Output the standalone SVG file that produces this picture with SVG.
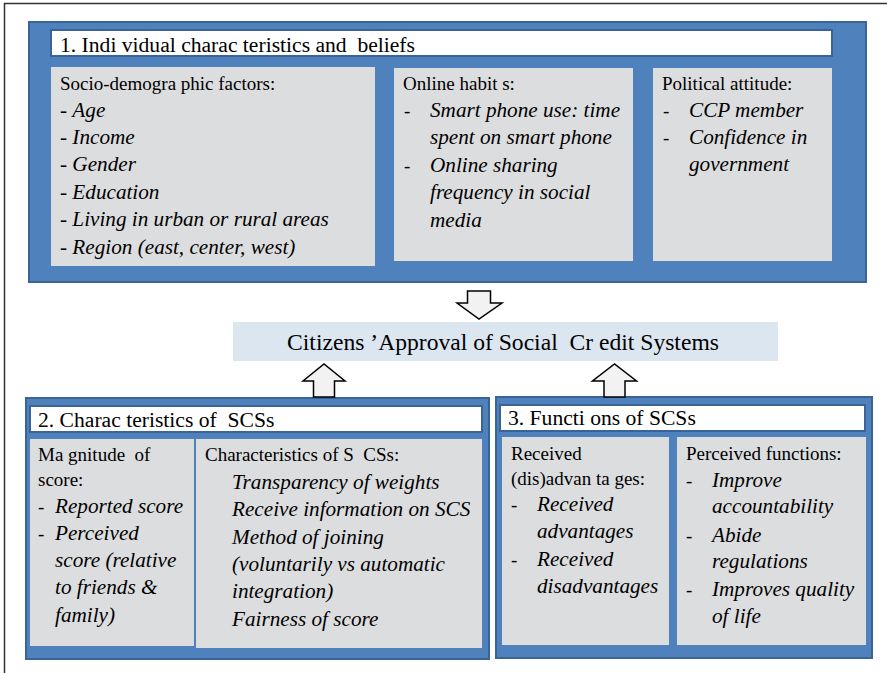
<svg xmlns="http://www.w3.org/2000/svg" width="887" height="673" viewBox="0 0 887 673">
<style>
.panel{fill:#4f81bd;stroke:#3b6496;stroke-width:2}
.title{fill:#ffffff;stroke:#3b6496;stroke-width:2}
.gray{fill:#dcdddf}
.mid{fill:#dce6f1}
.arrow{fill:#f2f2f2;stroke:#000;stroke-width:1.5;stroke-linejoin:miter}
text{font-family:"Liberation Serif","Times New Roman",serif;fill:#000;white-space:pre}
.t{font-size:21.6px}
.b{font-size:19px}
.i{font-size:21.2px;font-style:italic}
.c{font-size:23.6px}
</style>
<rect width="887" height="673" fill="#ffffff"/>
<path d="M4.5,673 V3.5 H887" fill="none" stroke="#333" stroke-width="1.5"/>

<g id="panel1">
<rect class="panel" x="29" y="22" width="837" height="260"/>
<rect class="title" x="51" y="30" width="781" height="26"/>
<text class="t" x="60" y="52">1. Indi vidual charac teristics and  beliefs</text>
</g>
<g id="socio">
<rect class="gray" x="51" y="67" width="324" height="199"/>
<text class="b" x="60" y="90">Socio-demogra phic factors:</text>
<text class="i" x="60" y="117"><tspan font-style="normal">- </tspan>Age</text>
<text class="i" x="60" y="144"><tspan font-style="normal">- </tspan>Income</text>
<text class="i" x="60" y="171"><tspan font-style="normal">- </tspan>Gender</text>
<text class="i" x="60" y="199"><tspan font-style="normal">- </tspan>Education</text>
<text class="i" x="60" y="226"><tspan font-style="normal">- </tspan>Living in urban or rural areas</text>
<text class="i" x="60" y="254"><tspan font-style="normal">- </tspan>Region (east, center, west)</text>
</g>
<g id="online">
<rect class="gray" x="394" y="68" width="239" height="193"/>
<text class="b" x="403" y="90">Online habit s:</text>
<text class="b" x="404" y="117">-</text>
<text class="i" x="430" y="117">Smart phone use: time</text>
<text class="i" x="430" y="144">spent on smart phone</text>
<text class="b" x="404" y="172">-</text>
<text class="i" x="430" y="172">Online sharing</text>
<text class="i" x="430" y="199">frequency in social</text>
<text class="i" x="430" y="227">media</text>
</g>
<g id="political">
<rect class="gray" x="653" y="68" width="179" height="193"/>
<text class="b" x="662" y="90">Political attitude:</text>
<text class="b" x="663" y="117">-</text>
<text class="i" x="689" y="117">CCP member</text>
<text class="b" x="663" y="144">-</text>
<text class="i" x="689" y="144">Confidence in</text>
<text class="i" x="689" y="171">government</text>
</g>

<g id="approval">
<rect class="mid" x="233" y="322" width="545" height="39"/>
<text class="c" x="503" y="350" text-anchor="middle">Citizens ’Approval of Social  Cr edit Systems</text>
</g>

<g id="panel2">
<rect class="panel" x="26" y="398" width="463" height="261"/>
<rect class="title" x="30" y="406" width="452" height="26"/>
<text class="t" x="38" y="427">2. Charac teristics of  SCSs</text>
</g>
<g id="magnitude">
<rect class="gray" x="30" y="439" width="164" height="207"/>
<text class="b" x="38" y="461">Ma gnitude  of</text>
<text class="b" x="38" y="486">score:</text>
<text class="b" x="38" y="513">-</text>
<text class="i" x="55" y="513">Reported score</text>
<text class="b" x="38" y="540">-</text>
<text class="i" x="55" y="540">Perceived</text>
<text class="i" x="55" y="567">score (relative</text>
<text class="i" x="55" y="594">to friends &amp;</text>
<text class="i" x="55" y="622">family)</text>
</g>
<g id="characteristics">
<rect class="gray" x="196" y="439" width="286" height="209"/>
<text class="b" x="205" y="461">Characteristics of S  CSs:</text>
<text class="i" x="232" y="489">Transparency of weights</text>
<text class="i" x="232" y="516">Receive information on SCS</text>
<text class="i" x="232" y="544">Method of joining</text>
<text class="i" x="232" y="571">(voluntarily vs automatic</text>
<text class="i" x="232" y="598">integration)</text>
<text class="i" x="232" y="626">Fairness of score</text>
</g>

<g id="panel3">
<rect class="panel" x="496" y="397" width="376" height="261"/>
<rect class="title" x="500" y="405" width="365" height="26"/>
<text class="t" x="508" y="425">3. Functi ons of SCSs</text>
</g>
<g id="received">
<rect class="gray" x="502" y="437" width="167" height="208"/>
<text class="b" x="511" y="460">Received</text>
<text class="b" x="511" y="485">(dis)advan ta ges:</text>
<text class="b" x="511" y="511">-</text>
<text class="i" x="537" y="511">Received</text>
<text class="i" x="537" y="538">advantages</text>
<text class="b" x="511" y="566">-</text>
<text class="i" x="537" y="566">Received</text>
<text class="i" x="537" y="593">disadvantages</text>
</g>
<g id="perceived">
<rect class="gray" x="677" y="437" width="189" height="208"/>
<text class="b" x="686" y="460">Perceived functions:</text>
<text class="b" x="686" y="487">-</text>
<text class="i" x="712" y="487">Improve</text>
<text class="i" x="712" y="513">accountability</text>
<text class="b" x="686" y="542">-</text>
<text class="i" x="712" y="542">Abide</text>
<text class="i" x="712" y="568">regulations</text>
<text class="b" x="686" y="596">-</text>
<text class="i" x="712" y="596">Improves quality</text>
<text class="i" x="712" y="623">of life</text>
</g>

<g id="connectors">
<path class="arrow" d="M467.5,291 H490.5 V303 H502 L479,319 L457,303 H467.5 Z"/>
<path class="arrow" d="M313.5,397 V381 H303 L324,364 L345,381 H334.5 V397 Z"/>
<path class="arrow" d="M604,397 V381 H592.5 L614.5,364 L636.5,381 H625 V397 Z"/>
</g>
</svg>
